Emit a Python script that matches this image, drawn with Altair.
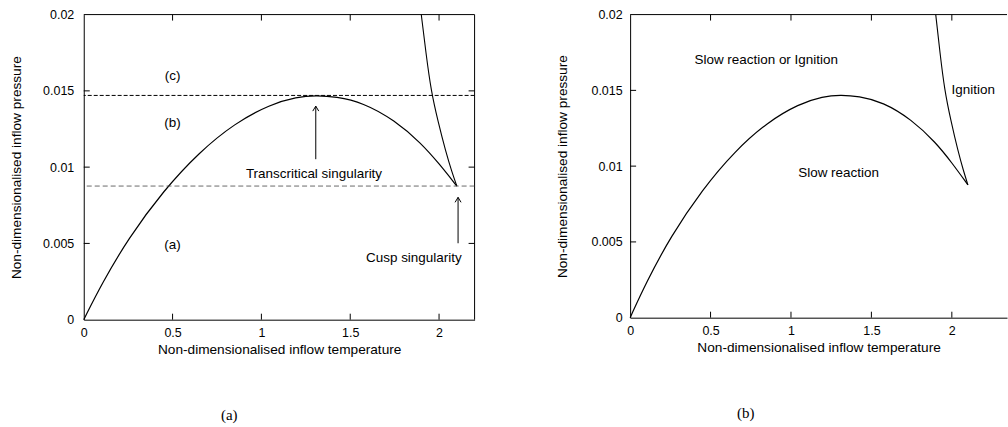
import altair as alt
import pandas as pd

# ---- data ----
main_T = [0, 0.1, 0.25, 0.45, 0.65, 0.85, 1.05, 1.2, 1.306, 1.42, 1.57, 1.75, 1.9, 2.0, 2.10]
main_P = [0, 0.00232, 0.00532, 0.00848, 0.01098, 0.01288, 0.01412, 0.0146, 0.0147, 0.01462,
          0.01424, 0.01308, 0.01156, 0.01023, 0.00876]
ign_T = [1.900, 1.926, 1.955, 1.994, 2.038, 2.072, 2.10]
ign_P = [0.02, 0.0175, 0.015, 0.013, 0.011, 0.0097, 0.00876]

peak_P = 0.0147
cusp_P = 0.00876

x_ticks = [0, 0.5, 1, 1.5, 2]
y_ticks = [0, 0.005, 0.01, 0.015, 0.02]
x_inner_ticks = [0.5, 1, 1.5, 2]
y_inner_ticks = [0.005, 0.01, 0.015]

left_texts = ["(c)", "(b)", "(a)", "Transcritical singularity", "Cusp singularity"]
left_text_T = [0.5, 0.5, 0.5, 1.296, 1.858]
left_text_P = [0.01597, 0.01286, 0.0049, 0.00954, 0.00403]

arrow_T = [1.306, 2.107]
arrow_from = [0.01052, 0.00501]
arrow_to = [0.0140, 0.00802]

right_texts = ["Slow reaction or Ignition", "Ignition", "Slow reaction"]
right_text_T = [0.846, 2.133, 1.296]
right_text_P = [0.01697, 0.0150, 0.00956]

x_title = "Non-dimensionalised inflow temperature"
y_title = "Non-dimensionalised inflow pressure"

FONT = "Liberation Sans"

main_df = pd.DataFrame({"T": main_T, "P": main_P})
ign_df = pd.DataFrame({"T": ign_T, "P": ign_P})


def panel(W, H, xmax, label_pad, title_pad, with_annotations):
    xs = alt.Scale(domain=[0, xmax], nice=False, zero=False)
    ys = alt.Scale(domain=[0, 0.02], nice=False, zero=False)
    x_axis = alt.Axis(values=x_ticks, format="~g", title=x_title, grid=False, ticks=False,
                      labelPadding=7, titlePadding=3, domainColor="black", labelFlush=False)
    y_axis = alt.Axis(values=y_ticks, format="~g", title=y_title, grid=False, ticks=False,
                      labelPadding=label_pad, titlePadding=title_pad, domainColor="black", labelFlush=False)

    xa = alt.X("T:Q", scale=xs, axis=x_axis)
    ya = alt.Y("P:Q", scale=ys, axis=y_axis)

    layers = []
    layers.append(alt.Chart(main_df).mark_line(color="black", strokeWidth=1.2, interpolate="basis").encode(
        x=xa, y=ya))
    layers.append(alt.Chart(ign_df).mark_line(color="black", strokeWidth=1.1, interpolate="basis").encode(
        x=xa, y=ya))

    # inward ticks
    xt = pd.DataFrame({"T": x_inner_ticks})
    yt = pd.DataFrame({"P": y_inner_ticks})
    layers.append(alt.Chart(xt).mark_rule(color="black").encode(x=xa, y=alt.value(H), y2=alt.value(H - 6)))
    layers.append(alt.Chart(xt).mark_rule(color="black").encode(x=xa, y=alt.value(0), y2=alt.value(6)))
    layers.append(alt.Chart(yt).mark_rule(color="black").encode(y=ya, x=alt.value(0), x2=alt.value(6)))
    # top border
    layers.append(alt.Chart(pd.DataFrame({"a": [0]})).mark_rule(color="black").encode(
        x=alt.value(0), x2=alt.value(W), y=alt.value(0)))

    if with_annotations:
        layers.append(alt.Chart(yt).mark_rule(color="black").encode(y=ya, x=alt.value(W), x2=alt.value(W - 6)))
        layers.append(alt.Chart(pd.DataFrame({"a": [0]})).mark_rule(color="black").encode(
            x=alt.value(W), y=alt.value(0), y2=alt.value(H)))
        layers.append(alt.Chart(pd.DataFrame({"P": [peak_P]})).mark_rule(
            color="black", strokeDash=[4, 2], strokeWidth=1).encode(y=ya))
        layers.append(alt.Chart(pd.DataFrame({"P": [cusp_P]})).mark_rule(
            color="#444", strokeDash=[5, 3], strokeWidth=0.8).encode(y=ya))
        txt = pd.DataFrame({"T": left_text_T, "P": left_text_P, "s": left_texts})
        arr = pd.DataFrame({"T": arrow_T, "P": arrow_from, "P2": arrow_to})
        layers.append(alt.Chart(arr).mark_rule(color="black", strokeWidth=1).encode(
            x=xa, y=ya, y2="P2:Q"))
        layers.append(alt.Chart(arr).mark_point(
            shape="M-0.6,1L0,0L0.6,1", filled=False, color="black", size=100, strokeWidth=1, opacity=1).encode(
            x=xa, y=alt.Y("P2:Q", scale=ys, axis=y_axis)))
    else:
        txt = pd.DataFrame({"T": right_text_T, "P": right_text_P, "s": right_texts})

    layers.append(alt.Chart(txt).mark_text(font=FONT, fontSize=13.5, color="black", baseline="middle").encode(
        x=xa, y=ya, text="s:N"))

    return alt.layer(*layers)


left = panel(392, 306, 2.2, 10, 19, True).properties(
    width=392, height=306,
    title=alt.TitleParams("(a)", orient="bottom", anchor="middle", frame="group", dx=-50, offset=52,
                          font="Liberation Serif", fontSize=15, fontWeight="normal", color="black"))
right = panel(378, 304, 2.343, 8, 22, False).properties(
    width=378, height=304,
    title=alt.TitleParams("(b)", orient="bottom", anchor="middle", frame="group", dx=-73, offset=52,
                          font="Liberation Serif", fontSize=15, fontWeight="normal", color="black"))

chart = alt.hconcat(left, right, spacing=79).properties(
    padding={"left": 9, "top": 8, "right": 0, "bottom": 0}
).configure(background="white").configure_view(stroke=None).configure_axis(
    labelFont=FONT, titleFont=FONT, labelFontSize=12.5, titleFontSize=13.7,
    titleFontWeight="normal", labelColor="black", titleColor="black"
)

chart.save("out.html", embed_options={"renderer": "svg", "actions": False})
